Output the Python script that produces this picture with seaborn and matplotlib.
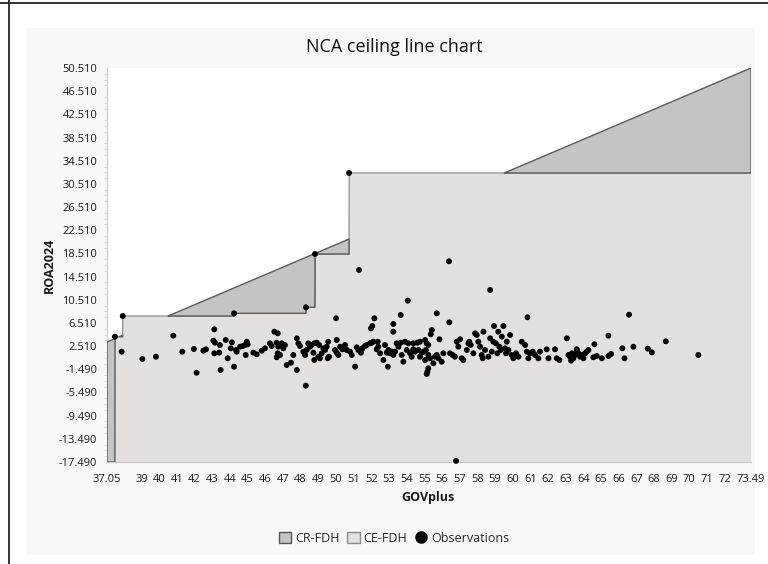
import numpy as np
import pandas as pd
import matplotlib
matplotlib.use("Agg")
import matplotlib.pyplot as plt
import seaborn as sns
from matplotlib.patches import Patch, Rectangle
from matplotlib.lines import Line2D

# observations (GOVplus, ROA2024)
gov_plus = [
    37.50, 37.94, 37.88, 39.05, 39.82, 40.80, 41.31, 41.97, 42.12, 42.50, 42.65, 43.12, 43.07, 43.16,
    43.12, 43.44, 43.40, 43.48, 43.77, 43.88, 44.05, 44.12, 44.24, 44.24, 44.35, 44.39, 44.58, 44.73,
    44.86, 44.96, 45.01, 44.90, 45.33, 45.52,
    48.31, 50.01, 54.07, 53.67, 52.18, 52.06, 51.99, 53.25, 53.25, 46.52, 46.71,
    45.80, 45.99, 46.27, 46.37, 46.65, 46.74, 46.94, 47.03, 47.12, 46.71, 46.65, 46.84, 47.22, 47.46,
    47.79, 48.30, 47.79, 47.88, 47.97, 47.59, 48.16, 48.26, 48.35, 48.44, 48.54, 48.63, 48.78, 48.92,
    49.05, 48.73, 48.78, 49.01, 49.10, 49.20, 49.29, 49.39, 49.48, 49.57, 49.61, 49.54,
    50.05, 49.95, 50.05, 50.14, 50.24, 50.37, 50.52, 50.62, 50.80, 50.90, 51.09, 51.18, 51.27, 51.42,
    51.50, 51.65, 51.75, 51.93, 52.03, 52.12, 52.31, 52.37, 52.40, 52.50, 52.69, 52.78, 52.88, 52.94,
    52.97, 53.07, 53.16, 53.25, 53.35, 53.44, 53.54, 53.67, 53.73, 53.82, 53.91, 54.01, 54.10, 54.20,
    54.29,
    55.71, 56.42, 60.84, 63.07, 55.43, 55.37, 55.86,
    54.38, 54.61, 54.76, 55.05, 55.14, 55.23, 55.10, 54.38, 54.48, 54.67, 54.86, 54.95, 54.76, 55.05,
    55.23, 55.33, 55.52, 55.61, 55.71, 55.80, 55.99, 55.23, 55.18, 55.14, 56.08,
    56.46, 56.61, 56.74, 56.84, 56.93, 57.03, 57.12, 57.21, 57.41, 57.50, 57.55, 57.63, 57.78, 57.88,
    57.97, 58.06, 58.16, 58.25, 58.35, 58.31, 58.44, 58.63, 58.73, 58.82, 58.91, 58.95, 59.06, 59.14,
    59.19, 59.25, 59.33, 59.39, 59.48, 59.57, 59.63, 59.67, 59.76, 59.86, 59.95, 60.04, 60.20, 60.33,
    60.52, 60.71, 60.80, 60.89, 60.99, 61.14, 61.27, 61.46, 61.55, 61.93, 62.03, 62.40, 62.50, 62.65,
    66.59, 65.42, 64.63, 68.67, 66.84, 66.21, 67.65, 67.88, 70.51, 63.16, 63.25, 63.35, 63.44, 63.54,
    63.63, 63.72, 63.82, 63.91, 64.01, 64.10, 64.20, 64.29, 64.57, 64.76, 65.05, 65.42, 65.57, 66.33,
    63.31, 63.63,
    48.82, 50.75, 51.31, 56.40, 58.73, 56.80,
]
roa_2024 = [
    4.14, 7.71, 1.55, 0.29, 0.68, 4.31, 1.55, 2.01, -2.08, 1.72, 1.96, 5.41, 3.45, 3.10,
    1.27, 2.70, 1.39, -1.61, 3.57, 0.41, 2.13, 3.16, -1.04, 8.17, 1.84, 1.55, 2.41, 2.53,
    2.70, 3.27, 2.82, 0.98, 1.39, 1.10,
    9.21, 7.31, 10.35, 7.88, 7.31, 5.98, 5.58, 6.33, 5.00, 5.00, 4.72,
    1.72, 2.13, 2.99, 2.53, 3.10, 2.41, 2.99, 2.13, 2.70, 1.27, 0.58, 0.98, -0.75, -0.35,
    -1.61, -4.32, 3.86, 2.99, 2.53, 0.98, 1.55, 0.98, 1.84, 2.99, 2.41, 2.70, 2.99, 3.10,
    2.70, 1.37, 0.11, 0.68, 0.41, 1.27, 2.13, 1.84, 2.41, 3.27, 0.68, 0.41,
    3.57, 1.84, 1.37, 0.98, 2.41, 1.96, 2.70, 1.84, 1.55, 0.98, -1.04, 2.30, 1.84, 1.37,
    2.13, 2.53, 2.70, 2.99, 3.10, 3.27, 1.96, 3.27, 2.41, 1.27, 0.11, 2.70, 1.37, -1.04,
    1.84, 1.27, 1.55, 0.98, 1.55, 2.99, 2.41, 3.10, 0.98, -0.18, 3.27, 1.84, 2.99, 1.27,
    0.68,
    8.17, 6.62, 7.48, 3.86, 5.29, 4.55, 3.69,
    2.99, 3.10, 3.27, 3.57, 2.99, 2.70, 1.84, 1.96, 1.55, 1.84, 1.37, 1.55, 0.68, 0.11,
    0.98, 0.41, -0.45, 0.68, 0.98, 0.41, -0.18, -1.32, -1.91, -2.30, 1.27,
    1.27, 0.98, 0.68, 3.27, 2.41, 3.69, 0.41, 0.11, 1.84, 2.99, 3.27, 2.70, 1.27, 4.72,
    4.43, 3.27, 2.41, 0.98, 5.00, 0.41, 1.84, 0.68, 3.86, 1.55, 3.27, 5.98, 2.99, 1.27,
    5.00, 2.41, 1.84, 4.14, 5.98, 2.13, 1.27, 3.27, 1.84, 4.43, 0.98, 0.41, 1.27, 0.68,
    3.27, 2.70, 1.55, 0.41, 1.27, 1.55, 0.98, 0.41, 1.55, 1.96, 0.41, 1.96, 0.41, 0.11,
    7.93, 4.31, 2.82, 3.34, 2.41, 2.13, 2.07, 1.44, 0.98, 0.98, 0.68, 1.27, 0.41, 0.98,
    1.55, 1.27, 0.68, 0.98, 0.41, 1.27, 1.55, 1.84, 0.58, 0.81, 0.41, 0.81, 1.15, 0.41,
    0.00, 1.96,
    18.41, 32.39, 15.65, 17.15, 12.20, -17.30,
]

# CR-FDH ceiling line end points
cr_x = [37.05, 73.49]
cr_y = [3.22, 50.51]

x_min, x_max = 37.05, 73.49
y_min, y_max = -17.49, 50.51
x_ticks = [37.05] + list(range(39, 73)) + [73.49]
x_tick_labels = ["37.05"] + [str(v) for v in range(39, 73)] + ["73.49"]
y_ticks = [-17.49, -13.49, -9.49, -5.49, -1.49, 2.51, 6.51, 10.51, 14.51,
           18.51, 22.51, 26.51, 30.51, 34.51, 38.51, 42.51, 46.51, 50.51]

CR_COLOR = "#c4c4c4"
CE_COLOR = "#e3e0dd"

df = pd.DataFrame({"GOVplus": gov_plus, "ROA2024": roa_2024})

# CE-FDH step ceiling from the observations
srt = df.sort_values("GOVplus")
xs = srt["GOVplus"].values
ce_steps = np.maximum.accumulate(srt["ROA2024"].values)
grid = np.linspace(x_min, x_max, 4000)
idx = np.searchsorted(xs, grid, side="right") - 1
ce = np.where(idx >= 0, ce_steps[np.clip(idx, 0, None)], y_min)
cr = np.interp(grid, cr_x, cr_y)

sns.set_style("white")
plt.rcParams["font.family"] = ["Open Sans", "DejaVu Sans"]

fig = plt.figure(figsize=(7.68, 5.64), dpi=100)
fig.patch.set_facecolor("white")
fig.add_artist(Rectangle((26 / 768, 1 - 555 / 564), 729 / 768, 527 / 564,
                         transform=fig.transFigure, facecolor="#f8f8f8",
                         edgecolor="none", zorder=-1))
fig.add_artist(Line2D([0, 1], [1 - 3 / 564] * 2, color="#222222", lw=1.3))
fig.add_artist(Line2D([9 / 768] * 2, [0, 1], color="#222222", lw=1.3))

ax = fig.add_axes([107 / 768, 102 / 564, 644 / 768, 394 / 564])
ax.set_facecolor("white")

inside = grid >= xs[0]
ax.fill_between(grid, y_min, ce, where=inside, facecolor=CE_COLOR,
                edgecolor="none", zorder=1)
ax.plot(grid[inside], ce[inside], color="#8f8f8f", lw=0.9, zorder=2)
ax.fill_between(grid, ce, cr, where=cr > ce, interpolate=True,
                facecolor=CR_COLOR, edgecolor="#5a5a5a", lw=1.0, zorder=3)

sns.scatterplot(data=df, x="GOVplus", y="ROA2024", color="black", s=18,
                edgecolor="none", legend=False, zorder=5, ax=ax, clip_on=False)

ax.set_xlim(x_min, x_max)
ax.set_ylim(y_min, y_max)
ax.set_xticks(x_ticks, x_tick_labels)
ax.set_yticks(y_ticks, [f"{v:.3f}" for v in y_ticks])
ax.set_yticks(np.arange(y_min, y_max, 1.0), minor=True)
ax.tick_params(axis="both", which="major", length=4, color="#b5b5b5",
               labelsize=8, labelcolor="#1a1a1a", pad=3)
ax.tick_params(axis="y", which="minor", length=2, color="#d5d5d5", left=True)
ax.tick_params(axis="x", which="major", pad=5)
ax.set_xlabel("")
ax.set_ylabel("")
for side in ["top", "right"]:
    ax.spines[side].set_visible(False)
for side in ["left", "bottom"]:
    ax.spines[side].set_color("#c8c8c8")
    ax.spines[side].set_linewidth(0.8)

fig.text(394 / 768, 1 - 47 / 564, "NCA ceiling line chart", ha="center",
         va="center", fontsize=13, color="#111111")
fig.text(428 / 768, 1 - 497 / 564, "GOVplus", ha="center", va="center",
         fontsize=9, fontweight="bold", color="#1a1a1a")
fig.text(49 / 768, 1 - 265 / 564, "ROA2024", ha="center", va="center",
         rotation=90, fontsize=9, fontweight="bold", color="#1a1a1a")

handles = [
    Patch(facecolor=CR_COLOR, edgecolor="#555555"),
    Patch(facecolor=CE_COLOR, edgecolor="#8a8a8a"),
    Line2D([], [], marker="o", ls="none", color="black", markersize=8),
]
fig.legend(handles, ["CR-FDH", "CE-FDH", "Observations"], loc="center",
           bbox_to_anchor=(394 / 768, 1 - 538 / 564), ncol=3, frameon=False,
           fontsize=9, handlelength=1.0, handleheight=1.0, handletextpad=0.3,
           columnspacing=0.6, borderaxespad=0)

fig.savefig("out.png", dpi=100)
